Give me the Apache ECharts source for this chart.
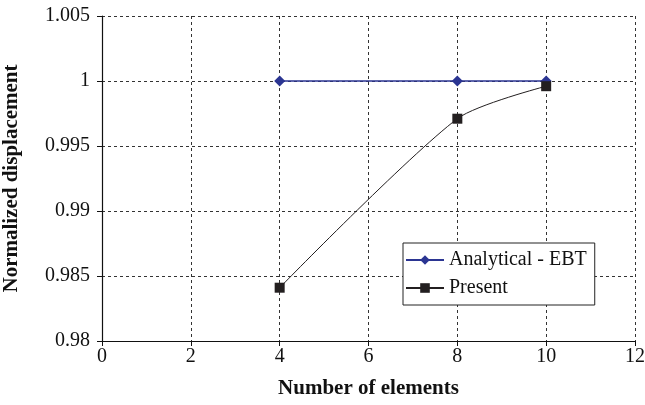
<!DOCTYPE html>
<html><head><meta charset="utf-8">
<script src="https://cdn.jsdelivr.net/npm/echarts@6/dist/echarts.min.js"></script>
<style>html,body{margin:0;padding:0;background:#fff}#c{width:645px;height:405px}</style>
</head><body><div id="c"></div>
<script>
const xValues = [4, 8, 10];
const analytical = [1, 1, 1];
const present = [0.9841, 0.9971, 0.9996];
const seriesNames = ['Analytical - EBT', 'Present'];
const xTitle = 'Number of elements';
const yTitle = 'Normalized displacement';

const chart = echarts.init(document.getElementById('c'));
const font = 'Liberation Serif';
chart.setOption({
  animation: false,
  backgroundColor: '#fff',
  grid: {left: 102, right: 10, top: 16, bottom: 64, containLabel: false, outerBoundsMode: 'none'},
  legend: {
    orient: 'vertical', left: 403, top: 243, width: 192,
    padding: [7, 8, 7, 2], itemGap: 8,
    backgroundColor: '#fff', borderColor: '#222', borderWidth: 1,
    itemWidth: 38, itemHeight: 12,
    textStyle: {fontFamily: font, fontSize: 20, color: '#111'},
    data: [{name: seriesNames[0]}, {name: seriesNames[1]}]
  },
  xAxis: {
    type: 'value', min: 0, max: 12, interval: 2,
    name: xTitle, nameLocation: 'middle', nameGap: 37,
    nameTextStyle: {fontFamily: font, fontSize: 21, fontWeight: 'bold', color: '#111'},
    axisLine: {lineStyle: {color: '#111', width: 1.2}},
    axisTick: {show: true, length: 5, lineStyle: {color: '#111'}},
    axisLabel: {fontFamily: font, fontSize: 20, color: '#111', margin: 6},
    splitLine: {show: true, lineStyle: {color: '#333', type: [3, 3], width: 1}}
  },
  yAxis: {
    type: 'value', min: 0.98, max: 1.005, interval: 0.005,
    name: yTitle, nameLocation: 'middle', nameGap: 80, nameRotate: 90,
    nameTextStyle: {fontFamily: font, fontSize: 21, fontWeight: 'bold', color: '#111'},
    axisLine: {show: true, lineStyle: {color: '#111', width: 1.2}},
    axisTick: {show: true, length: 5, lineStyle: {color: '#111'}},
    axisLabel: {fontFamily: font, fontSize: 20, color: '#111', margin: 12,
      formatter: v => String(parseFloat(v.toFixed(3)))},
    splitLine: {show: true, lineStyle: {color: '#333', type: [3, 3], width: 1}}
  },
  series: [
    {
      name: seriesNames[0], type: 'line',
      data: xValues.map((x, i) => [x, analytical[i]]),
      symbol: 'diamond', symbolSize: 11,
      itemStyle: {color: '#2B3592'},
      lineStyle: {color: '#2B3592', width: 1.5}
    },
    {
      name: seriesNames[1], type: 'line', smooth: 0.25,
      data: xValues.map((x, i) => [x, present[i]]),
      symbol: 'rect', symbolSize: 10,
      itemStyle: {color: '#231F20'},
      lineStyle: {color: '#231F20', width: 1}
    }
  ]
});
</script></body></html>
